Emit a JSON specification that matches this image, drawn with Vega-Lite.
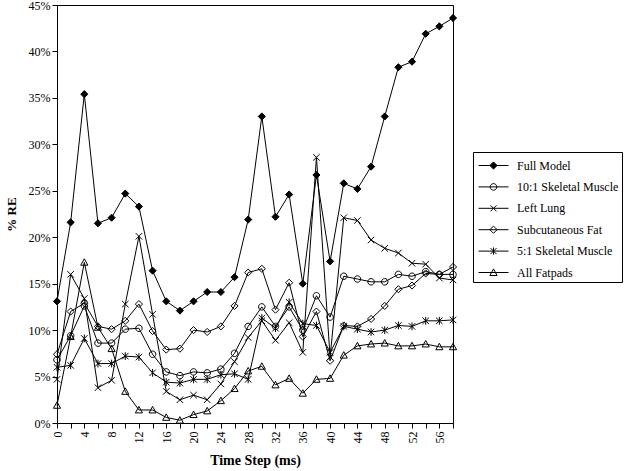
{
  "$schema": "https://vega.github.io/schema/vega-lite/v6.json",
  "width": 396,
  "height": 418,
  "autosize": {"type": "none"},
  "padding": {"left": 57, "top": 5, "right": 171, "bottom": 48},
  "background": "white",
  "config": {
    "font": "Liberation Serif",
    "view": {"stroke": "black", "strokeWidth": 1},
    "axis": {
      "domainColor": "black",
      "tickColor": "black",
      "labelColor": "black",
      "titleColor": "black",
      "labelFont": "Liberation Serif",
      "titleFont": "Liberation Serif",
      "grid": false,
      "tickSize": 5,
      "domainWidth": 1,
      "tickWidth": 1
    }
  },
  "datasets": {
    "series": [
      {"series": "Full Model", "t": 0, "re": 13.1}, {"series": "Full Model", "t": 2, "re": 21.6}, {"series": "Full Model", "t": 4, "re": 35.4}, {"series": "Full Model", "t": 6, "re": 21.5}, {"series": "Full Model", "t": 8, "re": 22.1}, {"series": "Full Model", "t": 10, "re": 24.7}, {"series": "Full Model", "t": 12, "re": 23.3}, {"series": "Full Model", "t": 14, "re": 16.4}, {"series": "Full Model", "t": 16, "re": 13.1}, {"series": "Full Model", "t": 18, "re": 12.1}, {"series": "Full Model", "t": 20, "re": 13.1}, {"series": "Full Model", "t": 22, "re": 14.1}, {"series": "Full Model", "t": 24, "re": 14.1}, {"series": "Full Model", "t": 26, "re": 15.7}, {"series": "Full Model", "t": 28, "re": 21.9}, {"series": "Full Model", "t": 30, "re": 33.0}, {"series": "Full Model", "t": 32, "re": 22.2}, {"series": "Full Model", "t": 34, "re": 24.6}, {"series": "Full Model", "t": 36, "re": 15.0}, {"series": "Full Model", "t": 38, "re": 26.7}, {"series": "Full Model", "t": 40, "re": 17.4}, {"series": "Full Model", "t": 42, "re": 25.8}, {"series": "Full Model", "t": 44, "re": 25.2}, {"series": "Full Model", "t": 46, "re": 27.6}, {"series": "Full Model", "t": 48, "re": 33.0}, {"series": "Full Model", "t": 50, "re": 38.3}, {"series": "Full Model", "t": 52, "re": 38.9}, {"series": "Full Model", "t": 54, "re": 41.9}, {"series": "Full Model", "t": 56, "re": 42.7}, {"series": "Full Model", "t": 58, "re": 43.6},
      {"series": "10:1 Skeletal Muscle", "t": 0, "re": 6.8}, {"series": "10:1 Skeletal Muscle", "t": 2, "re": 9.4}, {"series": "10:1 Skeletal Muscle", "t": 4, "re": 12.6}, {"series": "10:1 Skeletal Muscle", "t": 6, "re": 8.6}, {"series": "10:1 Skeletal Muscle", "t": 8, "re": 8.6}, {"series": "10:1 Skeletal Muscle", "t": 10, "re": 10.1}, {"series": "10:1 Skeletal Muscle", "t": 12, "re": 10.2}, {"series": "10:1 Skeletal Muscle", "t": 14, "re": 7.4}, {"series": "10:1 Skeletal Muscle", "t": 16, "re": 5.5}, {"series": "10:1 Skeletal Muscle", "t": 18, "re": 5.1}, {"series": "10:1 Skeletal Muscle", "t": 20, "re": 5.5}, {"series": "10:1 Skeletal Muscle", "t": 22, "re": 5.4}, {"series": "10:1 Skeletal Muscle", "t": 24, "re": 5.8}, {"series": "10:1 Skeletal Muscle", "t": 26, "re": 7.5}, {"series": "10:1 Skeletal Muscle", "t": 28, "re": 10.4}, {"series": "10:1 Skeletal Muscle", "t": 30, "re": 12.5}, {"series": "10:1 Skeletal Muscle", "t": 32, "re": 10.4}, {"series": "10:1 Skeletal Muscle", "t": 34, "re": 12.5}, {"series": "10:1 Skeletal Muscle", "t": 36, "re": 10.0}, {"series": "10:1 Skeletal Muscle", "t": 38, "re": 13.7}, {"series": "10:1 Skeletal Muscle", "t": 40, "re": 11.4}, {"series": "10:1 Skeletal Muscle", "t": 42, "re": 15.8}, {"series": "10:1 Skeletal Muscle", "t": 44, "re": 15.5}, {"series": "10:1 Skeletal Muscle", "t": 46, "re": 15.2}, {"series": "10:1 Skeletal Muscle", "t": 48, "re": 15.2}, {"series": "10:1 Skeletal Muscle", "t": 50, "re": 16.0}, {"series": "10:1 Skeletal Muscle", "t": 52, "re": 15.8}, {"series": "10:1 Skeletal Muscle", "t": 54, "re": 16.3}, {"series": "10:1 Skeletal Muscle", "t": 56, "re": 16.0}, {"series": "10:1 Skeletal Muscle", "t": 58, "re": 16.0},
      {"series": "Left Lung", "t": 0, "re": 4.7}, {"series": "Left Lung", "t": 2, "re": 16.0}, {"series": "Left Lung", "t": 4, "re": 13.4}, {"series": "Left Lung", "t": 6, "re": 3.8}, {"series": "Left Lung", "t": 8, "re": 4.6}, {"series": "Left Lung", "t": 10, "re": 12.8}, {"series": "Left Lung", "t": 12, "re": 20.1}, {"series": "Left Lung", "t": 14, "re": 11.7}, {"series": "Left Lung", "t": 16, "re": 3.4}, {"series": "Left Lung", "t": 18, "re": 2.5}, {"series": "Left Lung", "t": 20, "re": 3.0}, {"series": "Left Lung", "t": 22, "re": 2.5}, {"series": "Left Lung", "t": 24, "re": 4.2}, {"series": "Left Lung", "t": 26, "re": 6.6}, {"series": "Left Lung", "t": 28, "re": 9.2}, {"series": "Left Lung", "t": 30, "re": 11.0}, {"series": "Left Lung", "t": 32, "re": 8.9}, {"series": "Left Lung", "t": 34, "re": 10.8}, {"series": "Left Lung", "t": 36, "re": 7.6}, {"series": "Left Lung", "t": 38, "re": 28.6}, {"series": "Left Lung", "t": 40, "re": 7.1}, {"series": "Left Lung", "t": 42, "re": 22.1}, {"series": "Left Lung", "t": 44, "re": 21.8}, {"series": "Left Lung", "t": 46, "re": 19.7}, {"series": "Left Lung", "t": 48, "re": 18.8}, {"series": "Left Lung", "t": 50, "re": 18.3}, {"series": "Left Lung", "t": 52, "re": 17.2}, {"series": "Left Lung", "t": 54, "re": 17.1}, {"series": "Left Lung", "t": 56, "re": 15.6}, {"series": "Left Lung", "t": 58, "re": 15.4},
      {"series": "Subcutaneous Fat", "t": 0, "re": 7.4}, {"series": "Subcutaneous Fat", "t": 2, "re": 12.0}, {"series": "Subcutaneous Fat", "t": 4, "re": 12.9}, {"series": "Subcutaneous Fat", "t": 6, "re": 10.4}, {"series": "Subcutaneous Fat", "t": 8, "re": 10.1}, {"series": "Subcutaneous Fat", "t": 10, "re": 11.0}, {"series": "Subcutaneous Fat", "t": 12, "re": 12.8}, {"series": "Subcutaneous Fat", "t": 14, "re": 9.9}, {"series": "Subcutaneous Fat", "t": 16, "re": 7.9}, {"series": "Subcutaneous Fat", "t": 18, "re": 8.0}, {"series": "Subcutaneous Fat", "t": 20, "re": 10.0}, {"series": "Subcutaneous Fat", "t": 22, "re": 9.8}, {"series": "Subcutaneous Fat", "t": 24, "re": 10.4}, {"series": "Subcutaneous Fat", "t": 26, "re": 12.6}, {"series": "Subcutaneous Fat", "t": 28, "re": 16.2}, {"series": "Subcutaneous Fat", "t": 30, "re": 16.6}, {"series": "Subcutaneous Fat", "t": 32, "re": 12.2}, {"series": "Subcutaneous Fat", "t": 34, "re": 15.1}, {"series": "Subcutaneous Fat", "t": 36, "re": 9.3}, {"series": "Subcutaneous Fat", "t": 38, "re": 12.0}, {"series": "Subcutaneous Fat", "t": 40, "re": 6.7}, {"series": "Subcutaneous Fat", "t": 42, "re": 10.5}, {"series": "Subcutaneous Fat", "t": 44, "re": 10.4}, {"series": "Subcutaneous Fat", "t": 46, "re": 11.2}, {"series": "Subcutaneous Fat", "t": 48, "re": 12.6}, {"series": "Subcutaneous Fat", "t": 50, "re": 14.4}, {"series": "Subcutaneous Fat", "t": 52, "re": 14.8}, {"series": "Subcutaneous Fat", "t": 54, "re": 16.1}, {"series": "Subcutaneous Fat", "t": 56, "re": 16.0}, {"series": "Subcutaneous Fat", "t": 58, "re": 16.8},
      {"series": "5:1 Skeletal Muscle", "t": 0, "re": 6.0}, {"series": "5:1 Skeletal Muscle", "t": 2, "re": 6.2}, {"series": "5:1 Skeletal Muscle", "t": 4, "re": 9.1}, {"series": "5:1 Skeletal Muscle", "t": 6, "re": 6.4}, {"series": "5:1 Skeletal Muscle", "t": 8, "re": 6.4}, {"series": "5:1 Skeletal Muscle", "t": 10, "re": 7.2}, {"series": "5:1 Skeletal Muscle", "t": 12, "re": 7.1}, {"series": "5:1 Skeletal Muscle", "t": 14, "re": 5.4}, {"series": "5:1 Skeletal Muscle", "t": 16, "re": 4.4}, {"series": "5:1 Skeletal Muscle", "t": 18, "re": 4.3}, {"series": "5:1 Skeletal Muscle", "t": 20, "re": 4.7}, {"series": "5:1 Skeletal Muscle", "t": 22, "re": 4.7}, {"series": "5:1 Skeletal Muscle", "t": 24, "re": 5.2}, {"series": "5:1 Skeletal Muscle", "t": 26, "re": 5.3}, {"series": "5:1 Skeletal Muscle", "t": 28, "re": 4.7}, {"series": "5:1 Skeletal Muscle", "t": 30, "re": 11.3}, {"series": "5:1 Skeletal Muscle", "t": 32, "re": 10.2}, {"series": "5:1 Skeletal Muscle", "t": 34, "re": 13.0}, {"series": "5:1 Skeletal Muscle", "t": 36, "re": 10.7}, {"series": "5:1 Skeletal Muscle", "t": 38, "re": 10.5}, {"series": "5:1 Skeletal Muscle", "t": 40, "re": 7.6}, {"series": "5:1 Skeletal Muscle", "t": 42, "re": 10.4}, {"series": "5:1 Skeletal Muscle", "t": 44, "re": 10.1}, {"series": "5:1 Skeletal Muscle", "t": 46, "re": 9.8}, {"series": "5:1 Skeletal Muscle", "t": 48, "re": 10.0}, {"series": "5:1 Skeletal Muscle", "t": 50, "re": 10.5}, {"series": "5:1 Skeletal Muscle", "t": 52, "re": 10.4}, {"series": "5:1 Skeletal Muscle", "t": 54, "re": 11.0}, {"series": "5:1 Skeletal Muscle", "t": 56, "re": 11.0}, {"series": "5:1 Skeletal Muscle", "t": 58, "re": 11.1},
      {"series": "All Fatpads", "t": 0, "re": 1.9}, {"series": "All Fatpads", "t": 2, "re": 9.3}, {"series": "All Fatpads", "t": 4, "re": 17.3}, {"series": "All Fatpads", "t": 6, "re": 10.3}, {"series": "All Fatpads", "t": 8, "re": 8.0}, {"series": "All Fatpads", "t": 10, "re": 3.4}, {"series": "All Fatpads", "t": 12, "re": 1.4}, {"series": "All Fatpads", "t": 14, "re": 1.4}, {"series": "All Fatpads", "t": 16, "re": 0.6}, {"series": "All Fatpads", "t": 18, "re": 0.3}, {"series": "All Fatpads", "t": 20, "re": 0.9}, {"series": "All Fatpads", "t": 22, "re": 1.3}, {"series": "All Fatpads", "t": 24, "re": 2.4}, {"series": "All Fatpads", "t": 26, "re": 3.7}, {"series": "All Fatpads", "t": 28, "re": 5.6}, {"series": "All Fatpads", "t": 30, "re": 6.1}, {"series": "All Fatpads", "t": 32, "re": 4.1}, {"series": "All Fatpads", "t": 34, "re": 4.8}, {"series": "All Fatpads", "t": 36, "re": 3.2}, {"series": "All Fatpads", "t": 38, "re": 4.7}, {"series": "All Fatpads", "t": 40, "re": 4.8}, {"series": "All Fatpads", "t": 42, "re": 7.3}, {"series": "All Fatpads", "t": 44, "re": 8.3}, {"series": "All Fatpads", "t": 46, "re": 8.5}, {"series": "All Fatpads", "t": 48, "re": 8.6}, {"series": "All Fatpads", "t": 50, "re": 8.3}, {"series": "All Fatpads", "t": 52, "re": 8.3}, {"series": "All Fatpads", "t": 54, "re": 8.5}, {"series": "All Fatpads", "t": 56, "re": 8.2}, {"series": "All Fatpads", "t": 58, "re": 8.2}
    ]
  },
  "data": {"name": "series"},
  "encoding": {
    "x": {
      "field": "t",
      "type": "quantitative",
      "scale": {"domain": [0, 58], "nice": false, "zero": false},
      "axis": {
        "title": "Time Step (ms)",
        "titleFontSize": 14,
        "titleFontWeight": "bold",
        "titlePadding": 10,
        "values": [0, 2, 4, 6, 8, 10, 12, 14, 16, 18, 20, 22, 24, 26, 28, 30, 32, 34, 36, 38, 40, 42, 44, 46, 48, 50, 52, 54, 56, 58],
        "labelExpr": "datum.value % 4 === 0 ? datum.label : ''",
        "labelAngle": -90,
        "labelFontSize": 12,
        "labelPadding": 3,
        "labelBound": false,
        "labelOverlap": false,
        "labelFlush": false
      }
    },
    "y": {
      "field": "re",
      "type": "quantitative",
      "scale": {"domain": [0, 45], "nice": false},
      "axis": {
        "title": "% RE",
        "titleFontSize": 13,
        "titleFontWeight": "bold",
        "titlePadding": 10,
        "values": [0, 5, 10, 15, 20, 25, 30, 35, 40, 45],
        "labelExpr": "datum.value + '%'",
        "labelFontSize": 12,
        "labelPadding": 2,
        "labelFlush": false,
        "labelOverlap": false
      }
    }
  },
  "resolve": {"scale": {"shape": "independent", "fill": "independent"}, "legend": {"shape": "independent", "fill": "independent"}},
  "layer": [
    {
      "mark": {"type": "line", "color": "black", "strokeWidth": 1},
      "encoding": {"detail": {"field": "series"}}
    },
    {
      "mark": {"type": "point", "filled": true, "stroke": "black", "strokeWidth": 1, "size": 42, "opacity": 1},
      "encoding": {
        "shape": {
          "field": "series",
          "type": "nominal",
          "legend": null,
          "scale": {
            "domain": ["Full Model", "10:1 Skeletal Muscle", "Left Lung", "Subcutaneous Fat", "5:1 Skeletal Muscle", "All Fatpads"],
            "range": [
              "M0,-1.1L1.1,0L0,1.1L-1.1,0Z",
              "M-1,0A1,1 0 1,1 1,0A1,1 0 1,1 -1,0Z",
              "M-1,-1L1,1M-1,1L1,-1",
              "M0,-1.1L1.1,0L0,1.1L-1.1,0Z",
              "M-1,-1L1,1M-1,1L1,-1M0,-1.2L0,1.2",
              "M0,-1.1L1.1,0.9L-1.1,0.9Z"
            ]
          }
        },
        "fill": {
          "field": "series",
          "type": "nominal",
          "legend": null,
          "scale": {
            "domain": ["Full Model", "10:1 Skeletal Muscle", "Left Lung", "Subcutaneous Fat", "5:1 Skeletal Muscle", "All Fatpads"],
            "range": ["black", "transparent", "transparent", "transparent", "transparent", "transparent"]
          }
        }
      }
    },
    {
      "transform": [{"filter": "false"}],
      "mark": {"type": "point", "filled": true, "stroke": "black", "strokeWidth": 1, "opacity": 1},
      "encoding": {
        "shape": {
          "field": "series",
          "type": "nominal",
          "scale": {
            "domain": ["Full Model", "10:1 Skeletal Muscle", "Left Lung", "Subcutaneous Fat", "5:1 Skeletal Muscle", "All Fatpads"],
            "range": [
              "M-1.5,0L1.5,0M0,-0.36L0.36,0L0,0.36L-0.36,0Z",
              "M-1.5,0L1.5,0M-0.33,0A0.33,0.33 0 1,1 0.33,0A0.33,0.33 0 1,1 -0.33,0Z",
              "M-1.5,0L1.5,0M-0.3,-0.3L0.3,0.3M-0.3,0.3L0.3,-0.3",
              "M-1.5,0L1.5,0M0,-0.36L0.36,0L0,0.36L-0.36,0Z",
              "M-1.5,0L1.5,0M-0.3,-0.3L0.3,0.3M-0.3,0.3L0.3,-0.3M0,-0.36L0,0.36",
              "M-1.5,0L1.5,0M0,-0.36L0.36,0.3L-0.36,0.3Z"
            ]
          },
          "legend": {
            "title": null,
            "orient": "none",
            "legendX": 416,
            "legendY": 147,
            "strokeColor": "black",
            "padding": 3,
            "fillColor": "white",
            "labelFont": "Liberation Serif",
            "labelFontSize": 12,
            "labelColor": "black",
            "labelOffset": 13,
            "labelLimit": 200,
            "symbolSize": 400,
            "symbolOffset": 7,
            "rowPadding": 4.4,
            "encoding": {
              "symbols": {
                "stroke": {"value": "black"},
                "strokeWidth": {"value": 1},
                "opacity": {"value": 1}
              }
            }
          }
        },
        "fill": {
          "field": "series",
          "type": "nominal",
          "scale": {
            "domain": ["Full Model", "10:1 Skeletal Muscle", "Left Lung", "Subcutaneous Fat", "5:1 Skeletal Muscle", "All Fatpads"],
            "range": ["black", "transparent", "transparent", "transparent", "transparent", "transparent"]
          }
        }
      }
    }
  ]
}
